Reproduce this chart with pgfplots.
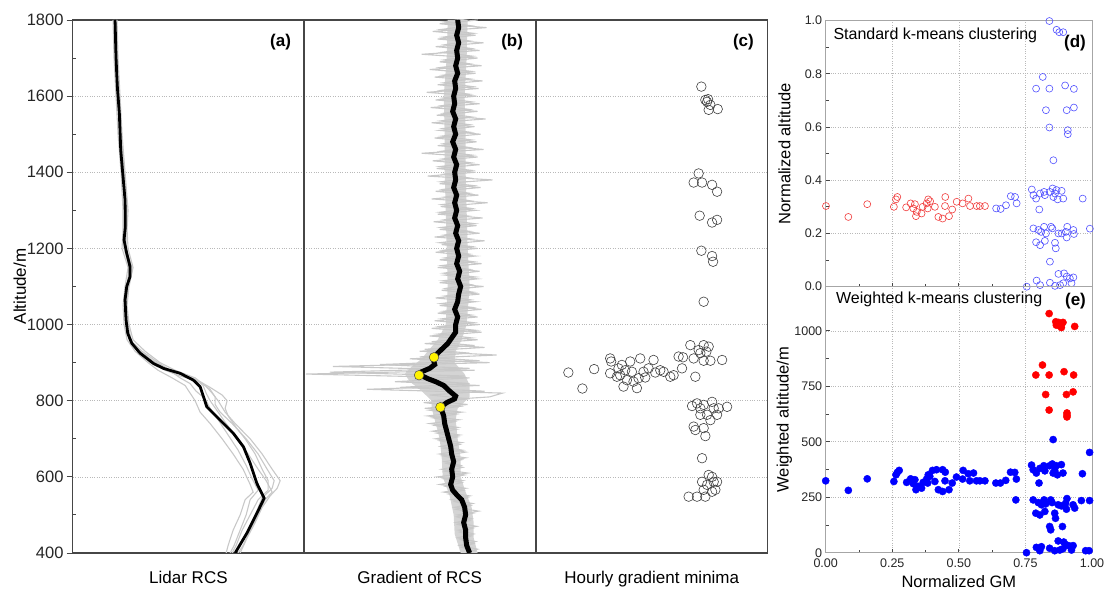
\documentclass[border=0pt]{standalone}
\usepackage{fontspec}
\setmainfont{Liberation Sans}
\usepackage{pgfplots}
\pgfplotsset{compat=1.18}
\usepackage{pgfplotstable}

\definecolor{axgray}{RGB}{70,70,70}
\definecolor{rcsgray}{RGB}{200,200,200}
\definecolor{coregray}{RGB}{212,212,212}
\definecolor{gridgray}{RGB}{185,185,185}
\definecolor{kblue}{RGB}{80,80,255}
\definecolor{kred}{RGB}{240,60,60}

% gradient of RCS, two noisy profiles (alt, x position in panel units)
\pgfplotstableread{
alt g1 g2
400 466 476
410 478 462
420 460 474
430 476 461
440 458 472
450 474 460
460 459 473
470 477 458
480 456 470
490 472 457
500 458 474
510 479 456
520 455 471
530 473 455
540 452 468
550 470 449
560 444 464
570 466 446
580 440 462
590 463 444
600 438 465
610 468 445
620 442 463
630 461 447
640 445 462
650 466 443
660 440 466
670 463 444
680 441 460
690 462 440
700 436 458
710 460 437
720 433 457
730 458 435
740 430 455
750 459 433
760 428 457
770 462 430
780 425 460
790 468 424
800 432 470
810 490 430
820 503 485
830 367 400
840 480 470
850 395 415
860 470 465
870 306 330
880 475 470
890 333 380
900 490 480
910 410 420
920 497 470
930 420 425
940 485 475
950 425 432
960 478 472
970 430 438
980 482 476
990 432 440
1000 480 474
1010 435 442
1020 478 472
1030 438 444
1040 482 473
1050 440 441
1060 476 471
1070 436 445
1080 480 474
1090 442 446
1100 484 471
1110 440 443
1120 478 476
1130 445 444
1140 480 470
1150 438 442
1160 482 474
1170 440 445
1180 476 470
1190 436 443
1200 478 472
1210 442 440
1220 485 471
1230 435 444
1240 480 470
1250 440 441
1260 477 475
1270 434 444
1280 483 469
1290 438 440
1300 476 472
1310 441 442
1320 488 471
1330 432 445
1340 479 470
1350 436 443
1360 481 474
1370 440 441
1380 493 470
1390 428 444
1400 476 472
1410 437 440
1420 480 471
1430 433 443
1440 478 473
1450 422 441
1460 484 470
1470 438 444
1480 477 472
1490 435 442
1500 481 471
1510 440 443
1520 475 470
1530 432 441
1540 486 473
1550 437 444
1560 478 470
1570 431 442
1580 480 472
1590 436 443
1600 477 470
1610 427 441
1620 479 473
1630 438 444
1640 483 471
1650 435 443
1660 476 472
1670 430 440
1680 482 470
1690 440 444
1700 478 473
1710 422 442
1720 480 472
1730 436 445
1740 484 470
1750 438 443
1760 476 474
1770 433 441
1780 487 471
1790 440 444
1800 478 472
}\gradnoise

\tikzset{plab/.style={font=\bfseries\fontsize{17}{20}\selectfont}}

\pgfplotsset{
  /pgf/number format/assume math mode=true,
  /pgf/number format/set thousands separator={},
  panel/.style={
    scale only axis, anchor=south west,
    axis line style={axgray, line width=1.1pt},
    tick style={axgray, line width=0.9pt},
    grid style={gridgray, dotted, line width=0.6pt},
    tick label style={font=\fontsize{16.5}{18}\selectfont, text=black!85},
    label style={font=\fontsize{17}{20}\selectfont},
  },
  leftpanel/.style={
    panel, width=231.5pt, height=533pt,
    ymin=400, ymax=1800, xtick=\empty, ymajorgrids,
    xlabel style={at={(axis description cs:0.5,-0.058)}, anchor=base},
  },
  rightpanel/.style={
    panel, width=266.3pt, height=266.2pt,
    xmin=0, xmax=1, xtick={0,0.25,0.5,0.75,1},
    grid=major, axis line style={gray!70, line width=1pt},
    tick align=inside, major tick length=4pt, minor tick length=3pt,
    xtick pos=bottom, ytick pos=left, minor y tick num=1, minor x tick num=1,
    tick label style={font=\fontsize{12.5}{14}\selectfont},
    label style={font=\fontsize{16.5}{19}\selectfont},
    ylabel style={at={(axis description cs:-0.155,0.5)}, anchor=center},
  },
}

\begin{document}
\begin{tikzpicture}
\useasboundingbox (0,0) rectangle (1104pt,589pt);

% (a) Lidar RCS
\begin{axis}[leftpanel, at={(72.7pt,36pt)}, xmin=72.7, xmax=304,
  ytick={400,600,...,1800}, minor ytick={500,700,...,1700}, ytick pos=left,
  tick align=inside, major tick length=6pt, minor tick length=3.5pt,
  major tick style={xshift=-6pt},
  yticklabel style={xshift=-9pt, inner xsep=0pt},
  ylabel={Altitude/m},
  ylabel style={at={(axis description cs:-0.228,0.5)}, anchor=center},
  xlabel={Lidar RCS}]
\addplot[rcsgray, line width=1.1pt] coordinates {(117,1800)(118,1700)(120,1600)(122,1500)(125,1400)(128,1300)(127,1250)(128,1200)(133,1150)(129,1100)(127,1050)(129,1000)(133,960)(145,930)(160,900)(175,880)(195,860)(205,840)(212,820)(218,800)(225,770)(235,740)(250,700)(262,660)(272,620)(280,590)(277,570)(270,550)(262,520)(255,480)(247,440)(240,400)};
\addplot[rcsgray, line width=1.1pt] coordinates {(113,1800)(114,1700)(116,1600)(118,1500)(121,1400)(123,1300)(123,1250)(122,1200)(128,1150)(125,1100)(123,1050)(124,1000)(127,960)(135,930)(148,900)(158,880)(172,860)(185,840)(190,820)(195,800)(200,770)(210,740)(222,700)(233,660)(243,620)(250,580)(253,560)(245,540)(240,500)(233,460)(228,420)(226,400)};
\addplot[rcsgray, line width=1.1pt] coordinates {(116,1800)(117,1700)(118,1600)(121,1500)(124,1400)(126,1300)(126,1250)(125,1200)(131,1150)(128,1100)(126,1050)(127,1000)(130,960)(140,930)(152,905)(165,885)(183,870)(196,855)(203,840)(206,820)(210,800)(218,770)(226,740)(238,700)(248,660)(258,620)(266,590)(272,560)(265,540)(258,500)(250,460)(243,420)(238,400)};
\addplot[rcsgray, line width=1.1pt] coordinates {(114,1800)(115,1700)(117,1600)(120,1500)(123,1400)(125,1300)(124,1250)(124,1200)(129,1150)(127,1100)(125,1050)(126,1000)(129,960)(138,930)(150,900)(165,880)(180,865)(200,850)(210,835)(222,815)(227,800)(225,780)(228,760)(236,730)(245,700)(255,660)(262,620)(268,590)(268,565)(258,540)(250,500)(242,460)(236,420)(232,400)};
\addplot[rcsgray, line width=1.1pt] coordinates {(115,1800)(116,1700)(119,1600)(121,1500)(124,1400)(127,1300)(126,1250)(126,1200)(132,1150)(128,1100)(126,1050)(128,1000)(131,960)(136,940)(150,910)(162,890)(172,875)(180,860)(190,845)(196,825)(205,805)(210,780)(218,750)(228,710)(238,670)(246,630)(252,595)(258,565)(250,540)(246,500)(240,460)(234,420)(230,400)};
\addplot[rcsgray, line width=1.1pt] coordinates {(116,1800)(117,1700)(118,1600)(120,1500)(123,1400)(126,1300)(125,1250)(125,1200)(130,1150)(127,1100)(125,1050)(126,1000)(130,960)(142,930)(158,900)(170,880)(188,862)(202,845)(210,830)(215,810)(215,790)(220,770)(232,740)(246,700)(258,660)(267,620)(274,590)(272,570)(262,545)(255,500)(248,460)(240,420)(236,400)};
\addplot[black, line width=2.8pt] coordinates {(115,1800)(116,1700)(117.3,1625)(119.3,1555)(120.7,1458)(122.7,1397)(125,1327)(125.3,1257)(124,1222)(126.7,1187)(130,1152)(130,1126)(126.7,1100)(125,1065)(126,1012)(127.7,977)(131.7,951)(140,925)(153.3,898)(163.3,885)(180,872)(193.3,854)(200,837)(203.3,811)(206.7,784)(220,749)(233.3,714)(243.3,679)(250,636)(256.7,583)(264,544)(256.7,504)(246.7,452)(235,400)};
\node[plab] at (rel axis cs:0.898,0.959) {(a)};
\end{axis}

% (b) Gradient of RCS
\begin{axis}[leftpanel, at={(304pt,36pt)}, xmin=304, xmax=536,
  ytick={600,800,...,1600}, yticklabels={}, major tick length=0pt,
  xlabel={Gradient of RCS}]
\addplot[fill=coregray, draw=none] coordinates {(461,400)(455,450)(454,500)(450,550)(443,600)(442,650)(440,700)(435,750)(432,780)(432,800)(420,830)(410,850)(405,870)(412,890)(422,910)(428,930)(438,960)(446,1000)(448,1100)(447,1200)(446,1300)(445,1400)(445,1500)(444,1600)(447,1700)(448,1800)
(468,1800)(467,1700)(465,1600)(466,1500)(466,1400)(467,1300)(468,1200)(470,1100)(467,1000)(462,960)(456,930)(455,900)(465,870)(470,840)(470,810)(458,780)(456,750)(458,700)(461,650)(461,600)(466,560)(472,520)(474,480)(474,440)(478,400)} -- cycle;
\addplot[rcsgray, line width=1.1pt] table[x=g1, y=alt] {\gradnoise};
\addplot[rcsgray, line width=1.1pt] table[x=g2, y expr=\thisrow{alt}+5] {\gradnoise};
\addplot[black, line width=5pt] coordinates {(470,400)(467,420)(466,440)(466,460)(464,480)(466,500)(465,520)(462,540)(458,550)(453,565)(451,580)(453,600)(452,620)(454,640)(452,660)(451,680)(449,700)(447,720)(445,740)(444,760)(441,783)(447,795)(455,805)(456,812)(450,825)(444,840)(436,850)(428,858)(421,867)(422,876)(430,885)(435,895)(434,905)(435,914)(438,925)(442,935)(448,950)(452,965)(456,980)(456,1000)(458,1020)(455,1040)(458,1060)(459,1080)(461,1100)(458,1120)(460,1140)(457,1160)(459,1180)(457,1200)(459,1220)(456,1240)(458,1260)(455,1280)(457,1300)(455,1320)(457,1340)(454,1360)(456,1380)(455,1400)(457,1420)(454,1440)(456,1460)(453,1480)(456,1500)(454,1520)(456,1540)(453,1560)(455,1580)(454,1600)(456,1620)(455,1640)(458,1660)(456,1680)(458,1700)(457,1720)(459,1740)(457,1760)(459,1780)(458,1800)};
\addplot[only marks, mark=*, mark size=4.8pt, mark options={fill=yellow, draw=black!70, line width=0.5pt}] coordinates {(434.3,914)(419.3,867)(440.7,783)};
\node[plab] at (rel axis cs:0.899,0.959) {(b)};
\end{axis}

% (c) Hourly gradient minima
\begin{axis}[leftpanel, at={(536pt,36pt)}, xmin=536, xmax=767,
  ytick={600,800,...,1600}, yticklabels={}, major tick length=0pt,
  xlabel={Hourly gradient minima}]
\addplot[only marks, mark=o, mark size=4.8pt, mark options={draw=black!75, line width=0.6pt}] coordinates {
(701,1625)(705,1590)(706.7,1585)(710,1577)(708.3,1564)(717.3,1566)(707.7,1592)
(698.3,1397)(693.3,1373)(701.7,1373)(711.7,1367)(716.7,1349)
(699.3,1286)(711.7,1268)(716.7,1275)
(701,1194)(711.7,1180)(712.7,1165)
(703.3,1060)
(568.3,874)(582.3,832)(594,883)(610,911)(611,903)(610,872)(618.3,885)(620,867)(623.3,837)(626.7,854)(630,903)(631.7,876)(636.7,833)(638.3,859)(640,911)(643.3,876)(645,861)(648.3,885)(653.3,907)(655,874)(663.3,876)(670,863)(673.3,867)(678.3,916)(681.7,885)(682.7,914)(690,946)(695,863)(693.3,911)(698.3,933)(703.3,946)(706,929)(708.3,942)(700,925)(703.3,905)(710,905)(721.7,907)(621.7,894)(616.7,863)(633.3,850)(625,880)(660,880)
(691.7,786)(696.7,793)(700,780)(703.3,789)(706.7,763)(711.7,797)(713.3,780)(716.7,763)(718.3,780)(726.7,784)(700,763)(693.3,732)(695,723)(703.3,728)(705,707)(710,749)(701.7,649)
(708.3,605)(711.7,600)(713.3,587)(716.7,587)(701.7,587)(706.7,579)(715,566)(688.3,548)(696.7,548)(705,548)(711.7,561)(703.3,566)};
\node[plab] at (rel axis cs:0.896,0.959) {(c)};
\end{axis}

% (d) Standard k-means clustering
\begin{axis}[rightpanel, at={(825.7pt,302.3pt)}, ymin=0, ymax=1,
  xticklabels={}, ytick={0,0.2,0.4,0.6,0.8,1},
  yticklabel style={/pgf/number format/.cd, fixed, fixed zerofill, precision=1},
  ylabel={Normalized altitude}]
\addplot[only marks, mark=o, mark size=3.5pt, mark options={draw=kred, line width=0.6pt}] coordinates {
(0.001,0.303)(0.085,0.262)(0.156,0.310)(0.256,0.300)(0.264,0.328)(0.269,0.337)(0.302,0.298)(0.319,0.313)(0.329,0.294)(0.335,0.310)(0.339,0.265)(0.342,0.281)(0.360,0.275)(0.364,0.300)(0.379,0.313)(0.385,0.328)(0.392,0.321)(0.383,0.294)(0.410,0.300)(0.423,0.262)(0.439,0.256)(0.449,0.337)(0.448,0.303)(0.463,0.265)(0.475,0.290)(0.492,0.319)(0.514,0.313)(0.536,0.331)(0.542,0.303)(0.567,0.303)(0.579,0.303)(0.598,0.303)};
\addplot[only marks, mark=o, mark size=3.5pt, mark options={draw=kblue, line width=0.6pt}] coordinates {
(0.640,0.294)(0.657,0.292)(0.677,0.306)(0.695,0.340)(0.711,0.337)(0.717,0.313)(0.755,0.000)
(0.840,0.998)(0.867,0.965)(0.877,0.956)(0.892,0.956)(0.815,0.788)(0.790,0.744)(0.840,0.744)(0.899,0.756)(0.932,0.743)(0.827,0.663)(0.905,0.663)(0.932,0.673)(0.840,0.598)(0.909,0.588)(0.909,0.573)(0.855,0.475)
(0.774,0.365)(0.780,0.344)(0.790,0.331)(0.805,0.350)(0.820,0.356)(0.823,0.344)(0.802,0.290)(0.842,0.356)(0.852,0.369)(0.861,0.350)(0.867,0.363)(0.871,0.328)(0.886,0.360)(0.892,0.331)(0.855,0.337)(0.965,0.331)
(0.780,0.219)(0.799,0.213)(0.809,0.206)(0.820,0.225)(0.827,0.200)(0.846,0.225)(0.851,0.219)(0.874,0.200)(0.886,0.200)(0.902,0.206)(0.907,0.225)(0.905,0.185)(0.930,0.213)(0.932,0.198)(0.992,0.218)(0.790,0.167)(0.805,0.156)(0.823,0.172)(0.861,0.165)(0.864,0.144)(0.842,0.094)
(0.792,0.023)(0.805,0.006)(0.842,0.015)(0.874,0.048)(0.895,0.050)(0.905,0.038)(0.917,0.031)(0.930,0.035)(0.923,0.013)(0.880,0.006)(0.892,0.013)(0.861,0.003)};
\node[anchor=west, font=\fontsize{16}{19}\selectfont] at (rel axis cs:0.016,0.944) {Standard k-means clustering};
\node[plab] at (rel axis cs:0.936,0.916) {(d)};
\end{axis}

% (e) Weighted k-means clustering
\begin{axis}[rightpanel, at={(825.7pt,36.3pt)}, ymin=0, ymax=1200,
  ytick={0,250,500,750,1000},
  xticklabel style={yshift=-3pt, /pgf/number format/.cd, fixed, fixed zerofill, precision=2},
  xlabel={Normalized GM},
  xlabel style={at={(axis description cs:0.5,-0.129)}, anchor=base},
  ylabel={Weighted altitude/m}]
\addplot[only marks, mark=*, mark size=3.6pt, mark options={draw=red, fill=red}] coordinates {
(0.839,1078)(0.864,1041)(0.875,1038)(0.885,1030)(0.891,1038)(0.879,1023)(0.885,1015)(0.935,1020)(0.866,1026)
(0.789,801)(0.814,846)(0.839,801)(0.826,713)(0.895,816)(0.931,801)(0.904,713)(0.929,725)(0.839,643)(0.906,630)(0.906,620)(0.906,612)};
\addplot[only marks, mark=*, mark size=3.6pt, mark options={draw=blue, fill=blue}] coordinates {
(0.000,324)(0.085,281)(0.156,333)(0.256,321)(0.264,351)(0.269,362)(0.276,371)(0.304,317)(0.319,333)(0.329,311)(0.335,329)(0.339,284)(0.348,299)(0.360,291)(0.366,317)(0.379,332)(0.385,351)(0.391,344)(0.383,314)(0.401,371)(0.410,321)(0.416,374)(0.423,284)(0.439,276)(0.439,374)(0.449,363)(0.448,324)(0.463,284)(0.475,314)(0.491,341)(0.514,332)(0.516,371)(0.535,356)(0.541,324)(0.555,359)(0.566,324)(0.579,324)(0.598,324)(0.639,314)(0.656,314)(0.676,326)(0.694,363)(0.710,362)(0.716,332)(0.714,238)(0.754,0)
(0.773,395)(0.779,374)(0.791,359)(0.801,314)(0.804,380)(0.819,392)(0.823,369)(0.854,510)(0.841,392)(0.851,400)(0.860,371)(0.866,392)(0.870,351)(0.885,397)(0.891,359)(0.854,359)(0.964,356)(0.991,452)
(0.779,238)(0.798,226)(0.810,216)(0.820,238)(0.826,220)(0.845,238)(0.850,226)(0.873,216)(0.885,211)(0.901,223)(0.906,244)(0.904,196)(0.929,216)(0.935,201)(0.960,235)(0.991,235)(0.789,178)(0.804,170)(0.823,186)(0.860,178)(0.863,155)(0.841,118)(0.845,103)(0.889,118)
(0.791,24)(0.804,9)(0.841,20)(0.810,27)(0.873,53)(0.894,48)(0.904,35)(0.916,30)(0.929,32)(0.923,12)(0.879,12)(0.891,18)(0.860,9)(0.976,9)(0.989,9)};
\node[anchor=west, font=\fontsize{16}{19}\selectfont] at (rel axis cs:0.026,0.95) {Weighted k-means clustering};
\node[plab] at (rel axis cs:0.938,0.944) {(e)};
\end{axis}
\end{tikzpicture}
\end{document}
